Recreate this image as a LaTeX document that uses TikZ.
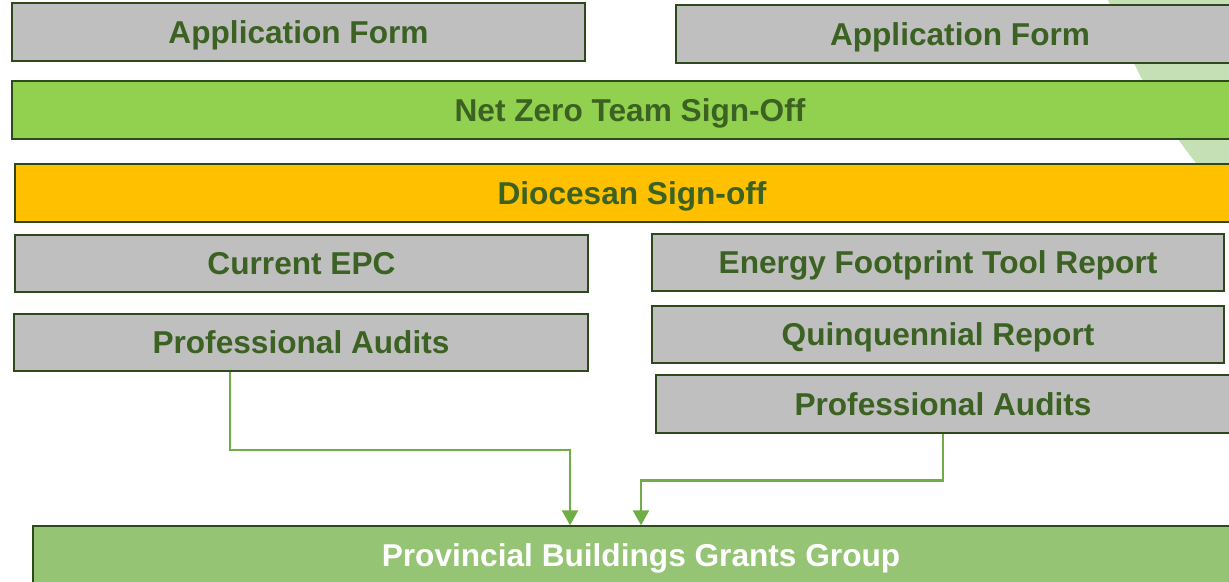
\documentclass[tikz,border=0pt]{standalone}
\usepackage{fontspec}
\setmainfont{Liberation Sans}
\usetikzlibrary{arrows.meta}

\definecolor{boxgray}{HTML}{BFBFBF}
\definecolor{boxgreen}{HTML}{92D050}
\definecolor{boxorange}{HTML}{FFC000}
\definecolor{boxpbgg}{HTML}{95C475}
\definecolor{textgreen}{HTML}{3B6222}
\definecolor{edgegreen}{HTML}{2E4A1C}
\definecolor{linkgreen}{HTML}{70AD47}
\definecolor{bggreen}{HTML}{C5E0B4}

\begin{document}
\begin{tikzpicture}[x=0.02cm, y=-0.02cm,
  box/.style={draw=edgegreen, line width=1.1pt, fill=boxgray, text=textgreen,
    font=\fontsize{18}{20}\selectfont\bfseries, inner sep=0pt, minimum height=1.15cm,
    text height=12.9pt, text depth=0pt},
  link/.style={draw=linkgreen, line width=1.4pt, -{Triangle[length=0.3cm, width=0.32cm]}}]

  % --- AREA ---
  \clip (0,0) rectangle (1229,581);

  % --- FUNDO (arco verde claro) ---
  \fill[bggreen] (1108,0) .. controls (1135,75) and (1170,140) .. (1229,200) -- (1229,0) -- cycle;

  % --- CAIXAS DO TOPO ---
  \node[box, minimum width=11.46cm] (app1) at (298.5, 32) {Application Form};
  \node[box, minimum width=11.36cm] (app2) at (960, 34) {Application Form};

  % --- APROVACOES ---
  \node[box, fill=boxgreen, minimum width=24.72cm] (netzero) at (630, 110) {Net Zero Team Sign-Off};
  \node[box, fill=boxorange, minimum width=24.68cm] (dio) at (632, 193) {Diocesan Sign-off};

  % --- DOCUMENTOS (esquerda) ---
  \node[box, minimum width=11.46cm] (epc) at (301.5, 263.5) {Current EPC};
  \node[box, minimum width=11.48cm] (audL) at (301, 342.5) {Professional Audits};

  % --- DOCUMENTOS (direita) ---
  \node[box, minimum width=11.44cm] (eft) at (938, 262.5) {Energy Footprint Tool Report};
  \node[box, minimum width=11.44cm] (quin) at (938, 334.5) {Quinquennial Report};
  \node[box, minimum width=11.48cm] (audR) at (943, 404) {Professional Audits};

  % --- GRUPO FINAL ---
  \node[box, fill=boxpbgg, text=white, minimum width=24.32cm] (pbgg) at (641, 555) {Provincial Buildings Grants Group};

  % --- CONEXOES ---
  \draw[link] ([xshift=-1.42cm]audL.south) -- ++(0,78) -| ([xshift=-1.42cm]pbgg.north);
  \draw[link] (audR.south) -- ++(0,47) -| (pbgg.north);

\end{tikzpicture}
\end{document}
